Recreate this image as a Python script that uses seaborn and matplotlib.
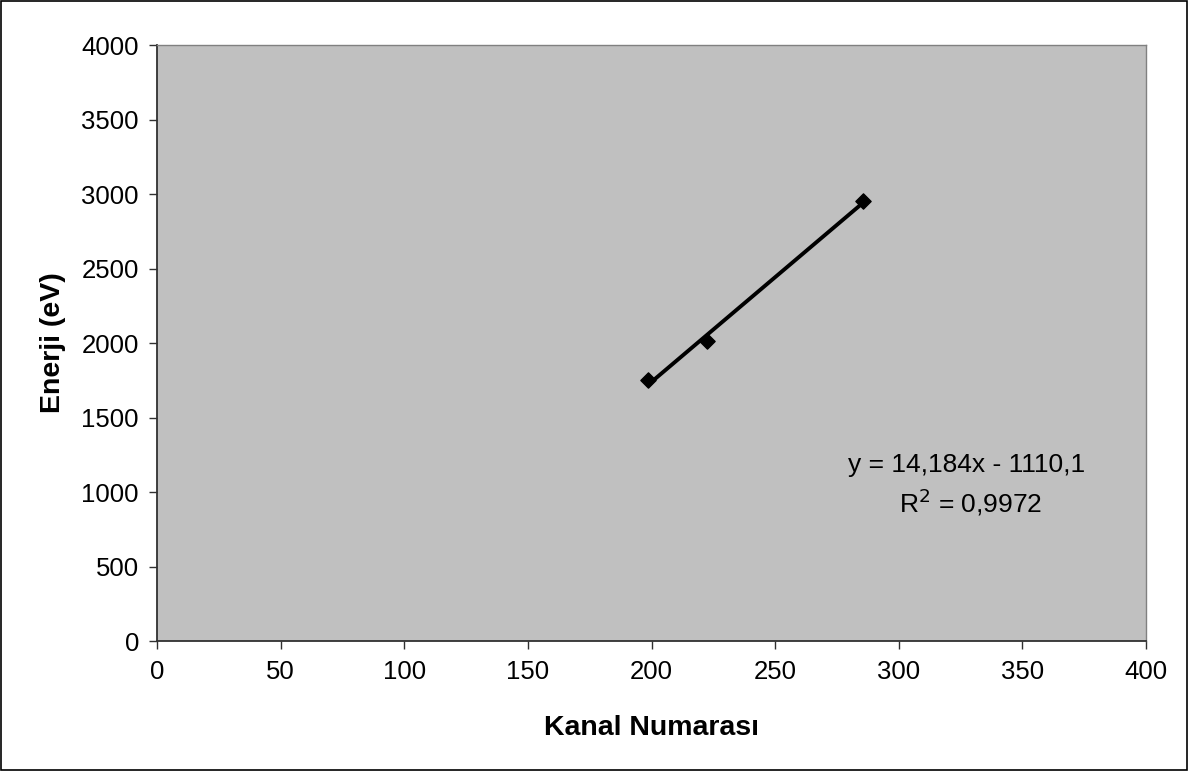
import numpy as np
import pandas as pd

import matplotlib
matplotlib.use("Agg")
import matplotlib.pyplot as plt
import seaborn as sns

# Veri
kanal = [198.5, 222.5, 285.5]
enerji = [1750, 2012, 2953]
denklem = "y = 14,184x - 1110,1"
r_kare = "R$^2$ = 0,9972"
x_ticks = [0, 50, 100, 150, 200, 250, 300, 350, 400]
y_ticks = [0, 500, 1000, 1500, 2000, 2500, 3000, 3500, 4000]

df = pd.DataFrame({
    "Kanal Numarası": kanal,
    "Enerji (eV)": enerji
})

sns.set_style("white")
plt.rcParams["font.family"] = ["Liberation Sans", "DejaVu Sans"]
plt.rcParams["text.color"] = "black"
plt.rcParams["axes.labelcolor"] = "black"
plt.rcParams["xtick.color"] = "black"
plt.rcParams["ytick.color"] = "black"

fig = plt.figure(figsize=(11.88, 7.71), dpi=100)
ax = fig.add_axes([0.1322, 0.1686, 0.8325, 0.7730])
ax.set_facecolor("#c0c0c0")

sns.regplot(
    data=df,
    x="Kanal Numarası",
    y="Enerji (eV)",
    ci=None,
    ax=ax,
    color="black",
    marker="D",
    scatter_kws={"s": 60, "zorder": 3, "alpha": 1},
    line_kws={"linewidth": 2.8}
)

ax.set_xlim(0, 400)
ax.set_ylim(0, 4000)
ax.set_xticks(x_ticks)
ax.set_yticks(y_ticks)
ax.tick_params(axis="both", labelsize=18.5, direction="out", length=6,
               width=1, color="#303030", labelcolor="black",
               bottom=True, left=True)
ax.tick_params(axis="y", pad=7)
ax.tick_params(axis="x", pad=8)

ax.set_xlabel("Kanal Numarası", fontsize=20.5, fontweight="bold",
              va="center", color="black")
ax.set_ylabel("Enerji (eV)", fontsize=20.5, fontweight="bold",
              va="center", color="black")
ax.xaxis.set_label_coords(0.5, -0.146)
ax.yaxis.set_label_coords(-0.105, 0.5)

for s in ["top", "right"]:
    ax.spines[s].set_color("#808080")
    ax.spines[s].set_linewidth(1)
for s in ["left", "bottom"]:
    ax.spines[s].set_color("#303030")
    ax.spines[s].set_linewidth(1.3)

ax.text(327.6, 1181, denklem, ha="center", va="center", fontsize=19,
        color="black")
ax.text(328.8, 933, r_kare, ha="center", va="center", fontsize=19,
        color="black")

# figür çerçevesi
fig.patches.append(plt.Rectangle((0.001, 0.001), 0.998, 0.998,
                                 transform=fig.transFigure, fill=False,
                                 edgecolor="black", linewidth=1.2))

fig.savefig("out.png", dpi=100)
